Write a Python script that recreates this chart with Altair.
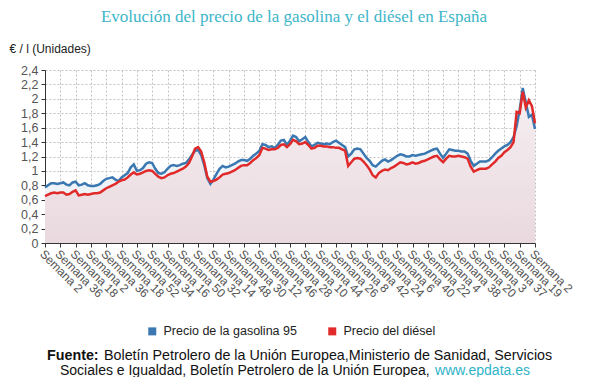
import altair as alt
import pandas as pd

# ---------------- data ----------------
week_labels = [
    "Semana 2", "Semana 36", "Semana 18", "Semana 2", "Semana 36", "Semana 18",
    "Semana 52", "Semana 34", "Semana 16", "Semana 50", "Semana 32", "Semana 14",
    "Semana 48", "Semana 30", "Semana 12", "Semana 46", "Semana 28", "Semana 10",
    "Semana 44", "Semana 26", "Semana 8", "Semana 42", "Semana 24", "Semana 6",
    "Semana 40", "Semana 22", "Semana 4", "Semana 38", "Semana 20", "Semana 3",
    "Semana 37", "Semana 19", "Semana 2",
]

series_names = ["Precio de la gasolina 95", "Precio del diésel"]

gasolina = [
    0.77, 0.80, 0.83, 0.83, 0.82, 0.83, 0.84, 0.81, 0.80, 0.84, 0.85,
    0.80, 0.81, 0.83, 0.80, 0.79, 0.79, 0.80, 0.82, 0.86, 0.89,
    0.90, 0.91, 0.88, 0.86, 0.91, 0.94, 0.97, 1.05, 1.09, 1.00,
    1.01, 1.04, 1.10, 1.12, 1.11, 1.03, 0.97, 0.96, 0.98, 1.03,
    1.07, 1.08, 1.07, 1.08, 1.10, 1.11, 1.16, 1.22, 1.28, 1.29,
    1.22, 1.08, 0.90, 0.82, 0.88, 0.96, 1.03, 1.07, 1.05, 1.06,
    1.08, 1.10, 1.13, 1.15, 1.15, 1.14, 1.17, 1.21, 1.24, 1.28,
    1.37, 1.36, 1.33, 1.34, 1.32, 1.36, 1.42, 1.43, 1.36, 1.42,
    1.49, 1.47, 1.41, 1.44, 1.47, 1.40, 1.34, 1.36, 1.39, 1.38,
    1.37, 1.38, 1.37, 1.40, 1.42, 1.39, 1.36, 1.33, 1.20, 1.24,
    1.30, 1.31, 1.30, 1.24, 1.18, 1.14, 1.08, 1.06, 1.10, 1.14,
    1.16, 1.13, 1.15, 1.18, 1.21, 1.23, 1.22, 1.20, 1.20, 1.22,
    1.21, 1.22, 1.23, 1.24, 1.26, 1.28, 1.30, 1.31, 1.24, 1.18,
    1.24, 1.30, 1.29, 1.28, 1.28, 1.27, 1.27, 1.24, 1.14, 1.07,
    1.10, 1.13, 1.13, 1.13, 1.15, 1.19, 1.24, 1.28, 1.31, 1.34,
    1.36, 1.40, 1.47, 1.62, 1.85, 2.15, 1.95, 1.75, 1.78, 1.58,
]

diesel = [
    0.65, 0.67, 0.69, 0.70, 0.69, 0.70, 0.70, 0.67, 0.68, 0.71, 0.73,
    0.66, 0.67, 0.68, 0.67, 0.68, 0.69, 0.69, 0.70, 0.73, 0.76,
    0.78, 0.80, 0.82, 0.85, 0.87, 0.88, 0.91, 0.95, 0.98, 0.95,
    0.96, 0.98, 1.00, 1.01, 1.00, 0.96, 0.92, 0.90, 0.91, 0.94,
    0.96, 0.97, 0.99, 1.01, 1.03, 1.06, 1.11, 1.20, 1.31, 1.33,
    1.27, 1.12, 0.92, 0.85, 0.86, 0.88, 0.91, 0.95, 0.96, 0.97,
    0.99, 1.01, 1.04, 1.07, 1.08, 1.08, 1.11, 1.15, 1.18, 1.22,
    1.32, 1.31, 1.29, 1.30, 1.30, 1.32, 1.36, 1.37, 1.33, 1.37,
    1.43, 1.41, 1.37, 1.38, 1.40, 1.36, 1.31, 1.32, 1.35, 1.35,
    1.34, 1.34, 1.33, 1.33, 1.32, 1.32, 1.30, 1.28, 1.07, 1.12,
    1.17, 1.18, 1.17, 1.13, 1.08, 1.02, 0.94, 0.91, 0.97, 1.00,
    1.02, 1.01, 1.04, 1.06, 1.09, 1.12, 1.11, 1.09, 1.10, 1.12,
    1.10, 1.11, 1.13, 1.14, 1.16, 1.18, 1.20, 1.21, 1.16, 1.12,
    1.17, 1.21, 1.20, 1.20, 1.21, 1.20, 1.19, 1.17, 1.06, 0.99,
    1.01, 1.03, 1.03, 1.03, 1.05, 1.09, 1.13, 1.18, 1.21, 1.26,
    1.29, 1.33, 1.40, 1.82, 1.80, 2.10, 1.88, 1.98, 1.90, 1.66,
]

y_ticks = [0, 0.2, 0.4, 0.6, 0.8, 1.0, 1.2, 1.4, 1.6, 1.8, 2.0, 2.2, 2.4]

title_text = "Evolución del precio de la gasolina y el diésel en España"
y_title = "€ / l (Unidades)"
footer_bold = "Fuente:"
footer_line1 = "Boletín Petrolero de la Unión Europea,Ministerio de Sanidad, Servicios"
footer_line2 = "Sociales e Igualdad, Boletín Petrolero de la Unión Europea,"
footer_link = "www.epdata.es"

# ---------------- tables ----------------
n = len(gasolina)
step = (n - 1) // (len(week_labels) - 1)
df = pd.DataFrame({"i": list(range(n)), "gasolina": gasolina, "diesel": diesel})
long = pd.concat([
    pd.DataFrame({"i": df["i"], "precio": df["gasolina"], "serie": series_names[0]}),
    pd.DataFrame({"i": df["i"], "precio": df["diesel"], "serie": series_names[1]}),
])

BLUE = "#3b78b1"
RED = "#e12a2a"
FONT = "Liberation Sans"

label_expr = "[" + ",".join("'%s'" % s for s in week_labels) + "][round(datum.value/%d)]" % step

x_enc = alt.X(
    "i:Q",
    scale=alt.Scale(domain=[0, n - 1], nice=False, zero=False),
    axis=alt.Axis(
        values=list(range(0, n, step)), labelExpr=label_expr, labelAngle=45,
        labelAlign="left", labelBaseline="top", title=None, grid=True,
        gridColor="#c2c2c2", gridDash=[2, 2], gridWidth=1,
        domainColor="#333333", tickColor="#333333", tickSize=4,
        labelFont=FONT, labelFontSize=12, labelColor="#555555", labelPadding=1,
        labelOverlap=False, labelFlush=False,
    ),
)

y_axis = alt.Axis(
    values=y_ticks, labelExpr="replace(format(datum.value, '.1~f'), '.', ',')",
    title=y_title, titleAngle=0, titleAlign="left", titleBaseline="middle",
    titleX=-36, titleY=-22, titleFont=FONT, titleFontSize=12,
    titleFontWeight="normal", titleColor="#222222",
    grid=True, gridColor="#c2c2c2", gridDash=[2, 2], gridWidth=1,
    domainColor="#333333", tickColor="#333333", tickSize=4,
    labelFont=FONT, labelFontSize=12.5, labelColor="#555555", labelPadding=3,
)
y_scale = alt.Scale(domain=[0, 2.4], nice=False)

pink = alt.Gradient(
    gradient="linear",
    stops=[alt.GradientStop(color="#f6eff2", offset=0),
           alt.GradientStop(color="#e9d9df", offset=1)],
    x1=0, x2=0, y1=0, y2=1,
)

area_g = alt.Chart(df).mark_area(color="#eef3f7").encode(
    x=x_enc, y=alt.Y("gasolina:Q", scale=y_scale, axis=y_axis)
)
area_d = alt.Chart(df).mark_area(color=pink).encode(
    x=x_enc, y=alt.Y("diesel:Q", scale=y_scale, axis=y_axis)
)
lines = alt.Chart(long).mark_line(strokeWidth=2.5).encode(
    x=x_enc,
    y=alt.Y("precio:Q", scale=y_scale, axis=y_axis),
    color=alt.Color(
        "serie:N",
        scale=alt.Scale(domain=series_names, range=[BLUE, RED]),
        legend=alt.Legend(
            orient="none", legendX=101, legendY=255, direction="horizontal",
            title=None, symbolType="square", symbolSize=1, symbolStrokeWidth=7,
            labelFont=FONT, labelFontSize=12.5, labelColor="#222222",
            columnPadding=20, padding=0, labelOffset=5,
        ),
    ),
)

def text_layer(txt, x, y, **kw):
    return alt.Chart(pd.DataFrame({"t": [txt]})).mark_text(**kw).encode(
        x=alt.value(x), y=alt.value(y), text="t:N"
    )

title = text_layer(title_text, 249, -53, font="Liberation Serif", fontSize=17,
                   color="#3cb5c9", align="center", baseline="middle")
f_bold = text_layer(footer_bold, 2, 286, font=FONT, fontSize=14.3, fontWeight="bold",
                    color="#111111", align="left", baseline="middle")
f_l1 = text_layer(footer_line1, 59, 286, font=FONT, fontSize=14.3,
                  color="#111111", align="left", baseline="middle")
f_l2 = text_layer(footer_line2, 15, 301, font=FONT, fontSize=14,
                  color="#111111", align="left", baseline="middle")
f_link = text_layer(footer_link, 485, 301, font=FONT, fontSize=14,
                    color="#2fb3c9", align="right", baseline="middle")

chart = alt.layer(area_g, area_d, lines, title, f_bold, f_l1, f_l2, f_link).properties(
    width=490, height=173,
    padding={"left": 37, "top": 62, "right": 47, "bottom": 134},
    autosize=alt.AutoSizeParams(type="none"),
).configure_view(strokeWidth=0)

chart.save("out.html", embed_options={"renderer": "svg", "actions": False})
